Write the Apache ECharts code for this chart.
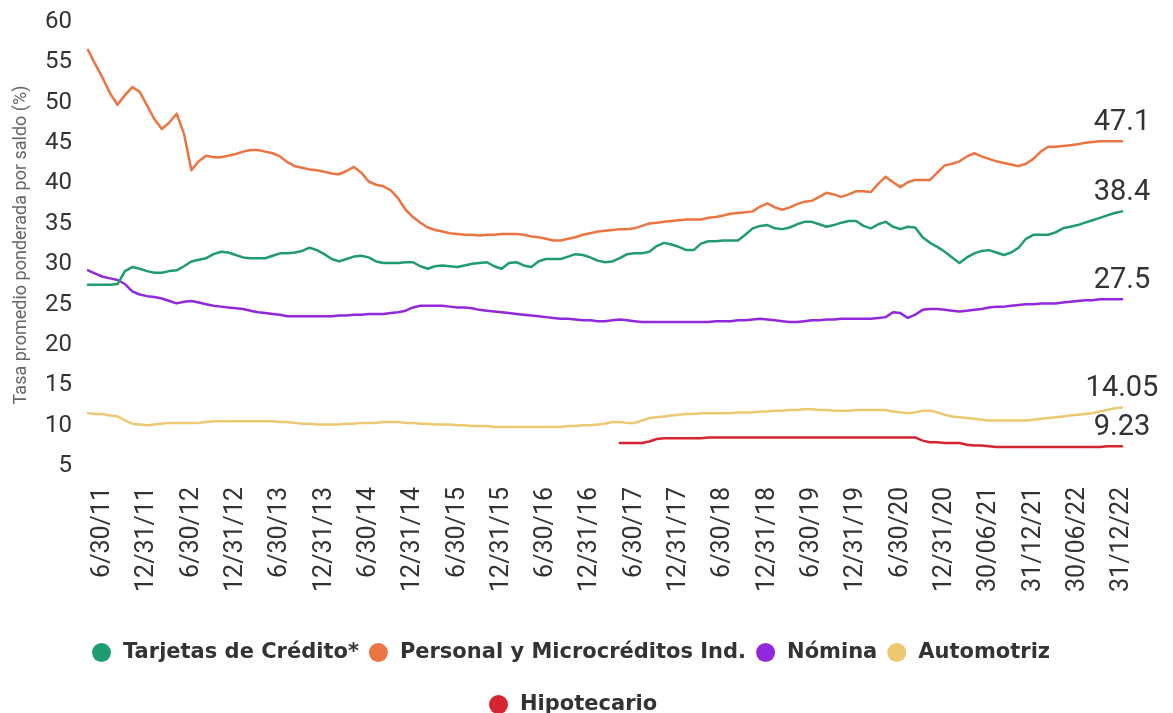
<!DOCTYPE html>
<html>
<head>
<meta charset="utf-8">
<script src="https://cdn.jsdelivr.net/npm/echarts@6/dist/echarts.min.js"></script>
<style>
html,body{margin:0;padding:0;background:#fff;}
#chart{width:1173px;height:713px;}
</style>
</head>
<body>
<div id="chart"></div>
<script>
// ---- DATA ----
const seriesNames = ['Tarjetas de Crédito*', 'Personal y Microcréditos Ind.', 'Nómina', 'Automotriz', 'Hipotecario'];
const endLabels = ['38.4', '47.1', '27.5', '14.05', '9.23'];
const yAxisTitle = 'Tasa promedio ponderada por saldo (%)';

// monthly month-end dates, Apr 2011 – Dec 2022
const startYear = 2011, startMonth = 4, nMonths = 141;

const tarjetas = [
29.3,29.3,29.3,29.3,29.4,31.0,31.5,31.3,31.0,30.8,
30.8,31.0,31.1,31.6,32.2,32.4,32.6,33.1,33.4,33.3,
33.0,32.7,32.6,32.6,32.6,32.9,33.2,33.2,33.3,33.5,
33.9,33.6,33.1,32.5,32.2,32.5,32.8,32.9,32.7,32.2,
32.0,32.0,32.0,32.1,32.1,31.6,31.3,31.6,31.7,31.6,
31.5,31.7,31.9,32.0,32.1,31.6,31.3,32.0,32.1,31.7,
31.5,32.2,32.5,32.5,32.5,32.8,33.1,33.0,32.7,32.3,
32.1,32.2,32.6,33.1,33.2,33.2,33.4,34.1,34.5,34.3,
34.0,33.6,33.6,34.4,34.7,34.7,34.8,34.8,34.8,35.5,
36.3,36.6,36.7,36.3,36.2,36.4,36.8,37.1,37.1,36.8,
36.5,36.7,37.0,37.2,37.2,36.6,36.3,36.8,37.1,36.5,
36.2,36.5,36.4,35.2,34.5,34.0,33.4,32.7,32.0,32.7,
33.2,33.5,33.6,33.3,33.0,33.3,33.9,35.0,35.5,35.5,
35.5,35.8,36.3,36.5,36.7,37.0,37.3,37.6,37.9,38.2,38.4
];
const personal = [
58.4,56.6,54.9,53.0,51.6,52.8,53.8,53.2,51.5,49.8,
48.6,49.4,50.5,48.0,43.5,44.6,45.3,45.1,45.1,45.3,
45.5,45.8,46.0,46.0,45.8,45.6,45.2,44.5,44.0,43.8,
43.6,43.5,43.3,43.1,43.0,43.4,43.9,43.2,42.1,41.7,
41.5,41.0,40.0,38.6,37.7,37.0,36.4,36.1,35.9,35.7,
35.6,35.5,35.5,35.4,35.5,35.5,35.6,35.6,35.6,35.5,
35.3,35.2,35.0,34.8,34.8,35.0,35.2,35.5,35.7,35.9,
36.0,36.1,36.2,36.2,36.3,36.6,36.9,37.0,37.1,37.2,
37.3,37.4,37.4,37.4,37.6,37.7,37.9,38.1,38.2,38.3,
38.4,39.0,39.4,38.9,38.6,38.9,39.3,39.6,39.7,40.2,
40.7,40.5,40.2,40.5,40.9,40.9,40.8,41.8,42.7,42.0,
41.4,42.0,42.3,42.3,42.3,43.2,44.1,44.3,44.6,45.2,
45.6,45.2,44.9,44.6,44.4,44.2,44.0,44.3,44.9,45.8,
46.4,46.4,46.5,46.6,46.7,46.9,47.0,47.1,47.1,47.1,47.1
];
const nomina = [
31.1,30.7,30.3,30.1,29.9,29.4,28.5,28.1,27.9,27.8,
27.6,27.3,27.0,27.2,27.3,27.1,26.9,26.7,26.6,26.5,
26.4,26.3,26.1,25.9,25.8,25.7,25.6,25.4,25.4,25.4,
25.4,25.4,25.4,25.4,25.5,25.5,25.6,25.6,25.7,25.7,
25.7,25.8,25.9,26.1,26.5,26.7,26.7,26.7,26.7,26.6,
26.5,26.5,26.4,26.2,26.1,26.0,25.9,25.8,25.7,25.6,
25.5,25.4,25.3,25.2,25.1,25.1,25.0,24.9,24.9,24.8,
24.8,24.9,25.0,24.9,24.8,24.7,24.7,24.7,24.7,24.7,
24.7,24.7,24.7,24.7,24.7,24.8,24.8,24.8,24.9,24.9,
25.0,25.1,25.0,24.9,24.8,24.7,24.7,24.8,24.9,24.9,
25.0,25.0,25.1,25.1,25.1,25.1,25.1,25.2,25.3,25.9,
25.8,25.2,25.6,26.2,26.3,26.3,26.2,26.1,26.0,26.1,
26.2,26.3,26.5,26.6,26.6,26.7,26.8,26.9,26.9,27.0,
27.0,27.0,27.1,27.2,27.3,27.4,27.4,27.5,27.5,27.5,27.5
];
const automotriz = [
13.4,13.3,13.3,13.1,13.0,12.5,12.1,12.0,11.9,12.0,
12.1,12.2,12.2,12.2,12.2,12.2,12.3,12.4,12.4,12.4,
12.4,12.4,12.4,12.4,12.4,12.4,12.3,12.3,12.2,12.1,
12.1,12.0,12.0,12.0,12.0,12.1,12.1,12.2,12.2,12.2,
12.3,12.3,12.3,12.2,12.2,12.1,12.1,12.0,12.0,12.0,
11.9,11.9,11.8,11.8,11.8,11.7,11.7,11.7,11.7,11.7,
11.7,11.7,11.7,11.7,11.7,11.8,11.8,11.9,11.9,12.0,
12.1,12.3,12.3,12.2,12.2,12.5,12.8,12.9,13.0,13.1,
13.2,13.3,13.3,13.4,13.4,13.4,13.4,13.4,13.5,13.5,
13.5,13.6,13.6,13.7,13.7,13.8,13.8,13.9,13.9,13.8,
13.8,13.7,13.7,13.7,13.8,13.8,13.8,13.8,13.8,13.6,
13.5,13.4,13.5,13.7,13.7,13.5,13.2,13.0,12.9,12.8,
12.7,12.6,12.5,12.5,12.5,12.5,12.5,12.5,12.6,12.7,
12.8,12.9,13.0,13.1,13.2,13.3,13.4,13.6,13.8,14.0,14.1
];
const hipotecario = [
null,null,null,null,null,null,null,null,null,null,
null,null,null,null,null,null,null,null,null,null,
null,null,null,null,null,null,null,null,null,null,
null,null,null,null,null,null,null,null,null,null,
null,null,null,null,null,null,null,null,null,null,
null,null,null,null,null,null,null,null,null,null,
null,null,null,null,null,null,null,null,null,null,
null,null,9.7,9.7,9.7,9.7,9.9,10.2,10.3,10.3,
10.3,10.3,10.3,10.3,10.4,10.4,10.4,10.4,10.4,10.4,
10.4,10.4,10.4,10.4,10.4,10.4,10.4,10.4,10.4,10.4,
10.4,10.4,10.4,10.4,10.4,10.4,10.4,10.4,10.4,10.4,
10.4,10.4,10.4,10.0,9.8,9.8,9.7,9.7,9.7,9.5,
9.4,9.4,9.3,9.2,9.2,9.2,9.2,9.2,9.2,9.2,
9.2,9.2,9.2,9.2,9.2,9.2,9.2,9.2,9.3,9.3,9.3
];
const colors = ['#1f9b70', '#ec7440', '#9228dc', '#ecc970', '#d42530'];

// ---- categories (month-end dates) ----
function daysIn(y, m) { return new Date(y, m, 0).getDate(); }
function pad(n) { return (n < 10 ? '0' : '') + n; }
const categories = [];
for (let k = 0; k < nMonths; k++) {
  const y = startYear + Math.floor((startMonth - 1 + k) / 12);
  const m = ((startMonth - 1 + k) % 12) + 1;
  const d = daysIn(y, m);
  const yy = String(y).slice(2);
  categories.push(y <= 2020 ? (m + '/' + d + '/' + yy) : (pad(d) + '/' + pad(m) + '/' + yy));
}

const allData = [tarjetas, personal, nomina, automotriz, hipotecario];

const legendText = { fontFamily: 'DejaVu Sans', fontWeight: 'bold', fontSize: 21, color: '#333333', padding: [0, 0, 0, 7] };

const chart = echarts.init(document.getElementById('chart'), null, { renderer: 'canvas' });
chart.setOption({
  backgroundColor: '#ffffff',
  animation: false,
  color: colors,
  grid: { left: 88, right: 51, top: 37, bottom: 232, containLabel: false },
  legend: [
    {
      data: seriesNames.slice(0, 4), top: 637, left: 87,
      icon: 'circle', itemWidth: 19, itemHeight: 19, itemGap: 10,
      textStyle: legendText
    },
    {
      data: seriesNames.slice(4), top: 689, left: 484,
      icon: 'circle', itemWidth: 19, itemHeight: 19, itemGap: 10,
      textStyle: legendText
    }
  ],
  xAxis: {
    type: 'category',
    data: categories,
    boundaryGap: false,
    axisLine: { show: false },
    axisTick: { show: false },
    splitLine: { show: false },
    axisLabel: {
      rotate: 90,
      margin: 6,
      interval: (idx) => (idx - 2) % 6 === 0,
      fontFamily: 'Roboto', fontSize: 25, color: '#333333'
    }
  },
  yAxis: {
    type: 'value',
    min: 5, max: 60, interval: 5,
    name: yAxisTitle,
    nameLocation: 'middle',
    nameGap: 58,
    nameTextStyle: { fontFamily: 'Roboto', fontSize: 18, color: '#666666', padding: [0, 0, 0, 28] },
    axisLine: { show: false },
    axisTick: { show: false },
    splitLine: { show: false },
    axisLabel: {
      margin: 16,
      verticalAlign: 'bottom',
      lineHeight: 24,
      padding: [0, 0, 3, 0],
      fontFamily: 'Roboto', fontSize: 24, color: '#333333'
    }
  },
  series: allData.map((arr, s) => ({
    name: seriesNames[s],
    type: 'line',
    data: arr,
    showSymbol: false,
    symbol: 'none',
    connectNulls: false,
    lineStyle: { width: 2.5, color: colors[s], join: 'round', cap: 'round' },
    itemStyle: { color: colors[s] },
    emphasis: { disabled: true },
    endLabel: {
      show: true,
      formatter: endLabels[s],
      distance: 0,
      align: 'center',
      verticalAlign: 'bottom',
      offset: [0, -4],
      fontFamily: 'Roboto', fontSize: 29, color: '#333333'
    },
    z: 10 - s
  }))
});
</script>
</body>
</html>
